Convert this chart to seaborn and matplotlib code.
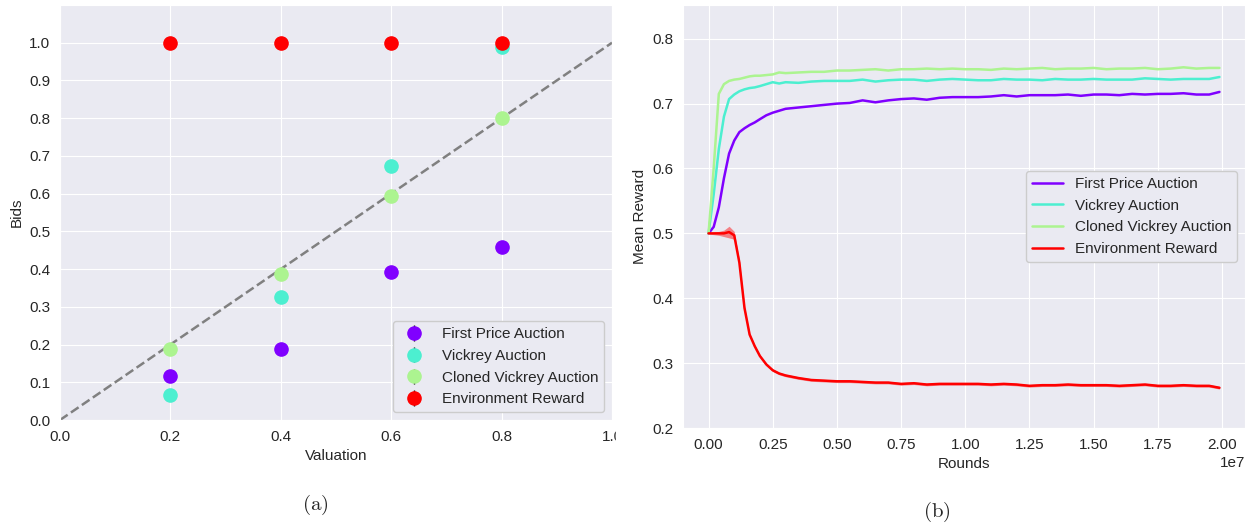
import numpy as np
import pandas as pd
import matplotlib.pyplot as plt
from matplotlib.patches import Rectangle
import seaborn as sb

# panel (a): bids per valuation
valuation = [0.2, 0.4, 0.6, 0.8]
first_price_bids = [0.117, 0.187, 0.392, 0.458]
vickrey_bids = [0.067, 0.327, 0.672, 0.990]
cloned_bids = [0.187, 0.387, 0.595, 0.800]
env_bids = [1.0, 1.0, 1.0, 1.0]
bid_err = [0.004, 0.004, 0.004, 0.004]

# panel (b): mean reward over training rounds (millions)
rounds_m = [0, 0.2, 0.4, 0.6, 0.8, 1.0, 1.2, 1.4, 1.6, 1.8, 2.0, 2.25, 2.5, 2.75, 3.0,
            3.5, 4.0, 4.5, 5.0, 5.5, 6.0, 6.5, 7.0, 7.5, 8.0, 8.5, 9.0, 9.5, 10.0,
            10.5, 11.0, 11.5, 12.0, 12.5, 13.0, 13.5, 14.0, 14.5, 15.0, 15.5, 16.0,
            16.5, 17.0, 17.5, 18.0, 18.5, 19.0, 19.5, 19.9]
first_price_rw = [0.500, 0.510, 0.540, 0.585, 0.623, 0.643, 0.656, 0.662, 0.667, 0.671,
                  0.676, 0.682, 0.686, 0.689, 0.692, 0.694, 0.696, 0.698, 0.700, 0.701,
                  0.705, 0.702, 0.705, 0.707, 0.708, 0.706, 0.709, 0.710, 0.710, 0.710,
                  0.711, 0.713, 0.711, 0.713, 0.713, 0.713, 0.714, 0.712, 0.714, 0.714,
                  0.713, 0.715, 0.714, 0.715, 0.715, 0.716, 0.714, 0.714, 0.718]
vickrey_rw = [0.500, 0.560, 0.630, 0.680, 0.707, 0.714, 0.719, 0.722, 0.724, 0.725,
              0.727, 0.730, 0.733, 0.731, 0.733, 0.732, 0.734, 0.735, 0.735, 0.735,
              0.737, 0.734, 0.736, 0.737, 0.737, 0.735, 0.737, 0.738, 0.737, 0.736,
              0.736, 0.738, 0.737, 0.737, 0.736, 0.738, 0.737, 0.737, 0.738, 0.737,
              0.737, 0.737, 0.739, 0.738, 0.737, 0.738, 0.738, 0.738, 0.741]
cloned_rw = [0.500, 0.600, 0.715, 0.730, 0.735, 0.737, 0.738, 0.740, 0.742, 0.743,
             0.743, 0.744, 0.745, 0.748, 0.747, 0.748, 0.749, 0.749, 0.751, 0.751,
             0.752, 0.753, 0.751, 0.753, 0.753, 0.754, 0.753, 0.754, 0.753, 0.753,
             0.752, 0.754, 0.753, 0.754, 0.755, 0.753, 0.754, 0.754, 0.755, 0.753,
             0.754, 0.754, 0.755, 0.753, 0.754, 0.756, 0.754, 0.755, 0.755]
env_rw = [0.500, 0.500, 0.500, 0.500, 0.502, 0.497, 0.455, 0.385, 0.344, 0.326,
          0.311, 0.298, 0.289, 0.284, 0.281, 0.277, 0.274, 0.273, 0.272, 0.272,
          0.271, 0.270, 0.270, 0.268, 0.269, 0.267, 0.268, 0.268, 0.268, 0.268,
          0.267, 0.268, 0.267, 0.265, 0.266, 0.266, 0.267, 0.266, 0.266, 0.266,
          0.265, 0.266, 0.267, 0.265, 0.265, 0.266, 0.265, 0.265, 0.262]
env_spread = [0.001, 0.002, 0.003, 0.005, 0.009, 0.006, 0.004, 0.003, 0.002, 0.002,
              0.002, 0.002, 0.002, 0.002, 0.002, 0.002, 0.002, 0.002, 0.002, 0.002,
              0.002, 0.002, 0.002, 0.002, 0.002, 0.002, 0.002, 0.002, 0.002, 0.002,
              0.002, 0.002, 0.002, 0.002, 0.002, 0.002, 0.002, 0.002, 0.002, 0.002,
              0.002, 0.002, 0.002, 0.002, 0.002, 0.002, 0.002, 0.002, 0.002]

names = ['First Price Auction', 'Vickrey Auction', 'Cloned Vickrey Auction', 'Environment Reward']
colors = ['#8000ff', '#4cefd0', '#acf490', '#ff0000']

sb.set_style('darkgrid')
plt.rcParams['font.family'] = ['Liberation Sans', 'DejaVu Sans']
plt.rcParams['font.size'] = 11

fig = plt.figure(figsize=(12.49, 5.27), dpi=100)
ax1 = fig.add_axes([60/1249, 107/527, 552/1249, 415/527])
ax2 = fig.add_axes([683/1249, 99/527, 562/1249, 423/527])

# (a)
ax1.plot([0, 1], [0, 1], ls='--', color='gray', lw=1.8, zorder=1)
for bids, name, c in zip([first_price_bids, vickrey_bids, cloned_bids, env_bids], names, colors):
    ax1.errorbar(valuation, bids, yerr=bid_err, fmt='o', color=c, ecolor='black',
                 elinewidth=1, markersize=9.5, label=name, zorder=3)
ax1.set_xlim(0, 1)
ax1.set_ylim(0, 1.1)
ax1.set_xticks(np.arange(0, 1.01, 0.2))
ax1.set_yticks(np.arange(0, 1.01, 0.1))
ax1.set_xlabel('Valuation')
ax1.set_ylabel('Bids')
ax1.tick_params(labelsize=11)
ax1.legend(loc='lower right', frameon=True, fontsize=11, edgecolor='#cccccc',
           facecolor='#eaeaf2', framealpha=1)

# (b)
rounds = np.array(rounds_m) * 1e6
df = pd.DataFrame({
    'Rounds': np.tile(rounds, 4),
    'Mean Reward': first_price_rw + vickrey_rw + cloned_rw + env_rw,
    'agent': np.repeat(names, len(rounds)),
})
sb.lineplot(data=df, x='Rounds', y='Mean Reward', hue='agent', palette=colors,
            hue_order=names, lw=1.8, ax=ax2)
env = np.array(env_rw)
spread = np.array(env_spread)
ax2.fill_between(rounds, env - spread, env + spread, color='#ff0000', alpha=0.45, lw=0)
ax2.set_ylim(0.2, 0.852)
ax2.set_xticks(np.arange(0, 2.01e7, 0.25e7))
ax2.set_yticks(np.arange(0.2, 0.81, 0.1))
ax2.tick_params(labelsize=11)
ax2.legend(loc='center right', frameon=True, fontsize=11, edgecolor='#cccccc',
           facecolor='#eaeaf2', framealpha=1)

# the left panel was cropped at its right edge
fig.patches.append(Rectangle((616/1249, 70/527), 10/1249, 40/527, transform=fig.transFigure,
                             color='white', zorder=10))

fig.text(315/1249, 1 - 505/527, r'$\mathrm{(a)}$', ha='center', va='center',
         fontsize=15, math_fontfamily='cm')
fig.text(937/1249, 1 - 512/527, r'$\mathrm{(b)}$', ha='center', va='center',
         fontsize=15, math_fontfamily='cm')

fig.savefig('out.png', dpi=100)
